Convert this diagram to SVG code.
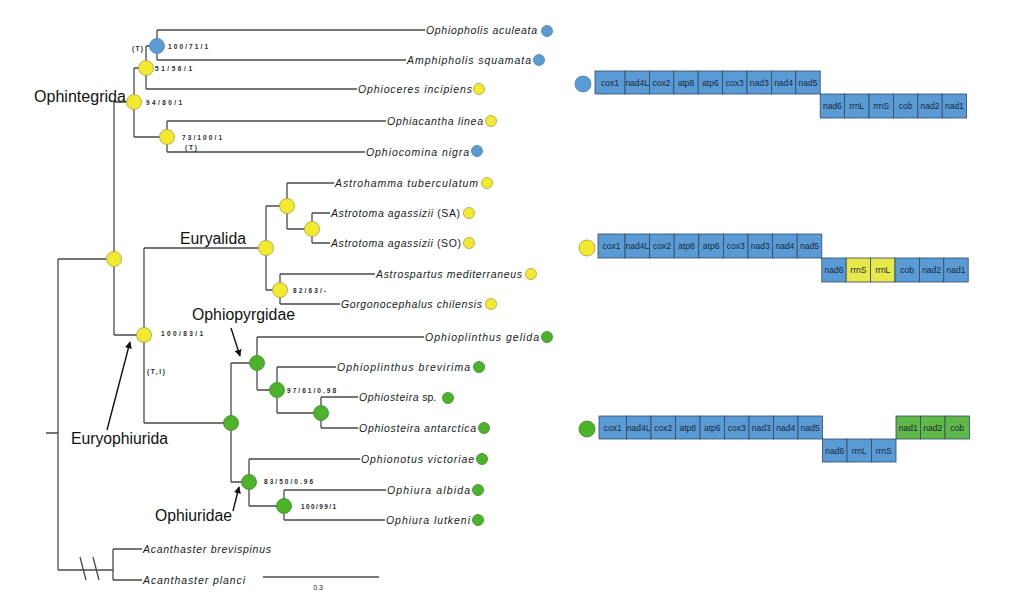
<svg xmlns="http://www.w3.org/2000/svg" width="1024" height="597" viewBox="0 0 1024 597">
<defs>
<style>
.br{stroke:#4a4a4a;stroke-width:1.3;fill:none}
.nb{fill:#5b9bd5;stroke:#4a7fb0;stroke-width:0.8}
.ny{fill:#f2ea2e;stroke:#a8a040;stroke-width:0.8}
.ng{fill:#4cb32a;stroke:#3a8a22;stroke-width:0.8}
.tx{font-family:"Liberation Sans",Arial,sans-serif;font-style:italic;font-size:10.5px;fill:#1a1a1a}
.up{font-style:normal}
.sp{font-family:"Liberation Sans",Arial,sans-serif;font-weight:bold;font-size:6.5px;fill:#2a2a2a}
.cl{font-family:"Liberation Sans",Arial,sans-serif;font-size:16px;fill:#111}
.gb{fill:#5b9bd5;stroke:#2f4a66;stroke-width:0.8}
.gy{fill:#e9e84a;stroke:#2f4a66;stroke-width:0.8}
.gg{fill:#5fb848;stroke:#2f4a66;stroke-width:0.8}
.gt{font-family:"Liberation Sans",Arial,sans-serif;font-size:8.5px;fill:#1a2a3a;text-anchor:middle}
.ar{stroke:#111;stroke-width:1.4;fill:none}
</style>
<marker id="ah" viewBox="0 0 10 10" refX="9" refY="5" markerWidth="7" markerHeight="7" orient="auto" markerUnits="userSpaceOnUse">
<path d="M0,0 L10,5 L0,10 z" fill="#111"/>
</marker>
</defs>
<rect width="1024" height="597" fill="#fff"/>

<g id="connectors">
<path class="br" d="M157,30H425 M157,60H406 M157,30V60 M146,46H157 M146,46V89 M146,89H357 M134,68H146 M134,68V137 M134,137H167 M167,121V152 M167,121H386 M167,152H365 M114,102H134 M114,102V335 M58,259H114 M114,335H144 M144,248V423 M144,248H266 M266,206V290 M266,206H287 M287,183V229 M287,183H334 M287,229H312 M312,213V243 M312,213H330 M312,243H330 M266,290H280 M280,274V304 M280,274H375 M280,304H340 M144,423H231 M231,363V482 M231,363H257 M257,337V390 M257,337H424 M257,390H277 M277,367V413 M277,367H336 M277,413H321 M321,397V428 M321,397H358 M321,428H358 M231,482H249 M249,459V506 M249,459H360 M249,506H284 M284,490V520 M284,490H386 M284,520H385 M58,259V570 M46,433H58 M58,570H113 M113,549V580 M113,549H142 M113,580H142"/>
<path class="br" d="M80,557L86,580 M93,557L99,580"/>
<path class="br" d="M263,577H379"/>
<line class="ar" x1="107" y1="430" x2="130" y2="342" marker-end="url(#ah)"/>
<line class="ar" x1="231" y1="328" x2="240" y2="356" marker-end="url(#ah)"/>
<line class="ar" x1="233" y1="511" x2="239" y2="487" marker-end="url(#ah)"/>
</g>

<g id="internal-nodes">
<circle class="nb" cx="157" cy="46" r="7.5"/>
<circle class="ny" cx="146" cy="68" r="7.5"/>
<circle class="ny" cx="134" cy="102" r="7.5"/>
<circle class="ny" cx="167" cy="137" r="7.5"/>
<circle class="ny" cx="114" cy="259" r="7.5"/>
<circle class="ny" cx="144" cy="335" r="7.5"/>
<circle class="ny" cx="266" cy="248" r="7.5"/>
<circle class="ny" cx="287" cy="206" r="7.5"/>
<circle class="ny" cx="312" cy="229" r="7.5"/>
<circle class="ny" cx="280" cy="290" r="7.5"/>
<circle class="ng" cx="231" cy="423" r="7.5"/>
<circle class="ng" cx="257" cy="363" r="7.5"/>
<circle class="ng" cx="277" cy="390" r="7.5"/>
<circle class="ng" cx="321" cy="413" r="7.5"/>
<circle class="ng" cx="249" cy="482" r="7.5"/>
<circle class="ng" cx="284" cy="506" r="7.5"/>
</g>

<g id="support">
<text class="sp" x="168" y="49" textLength="40" lengthAdjust="spacing">100/71/1</text>
<text class="sp" x="132" y="51" textLength="11" lengthAdjust="spacing">(T)</text>
<text class="sp" x="155" y="71" textLength="37" lengthAdjust="spacing">51/56/1</text>
<text class="sp" x="146" y="105" textLength="36" lengthAdjust="spacing">94/80/1</text>
<text class="sp" x="182" y="140" textLength="40" lengthAdjust="spacing">73/100/1</text>
<text class="sp" x="185" y="150" textLength="12" lengthAdjust="spacing">(T)</text>
<text class="sp" x="293" y="293" textLength="33" lengthAdjust="spacing">82/63/-</text>
<text class="sp" x="161" y="336" textLength="42" lengthAdjust="spacing">100/83/1</text>
<text class="sp" x="147" y="374" textLength="18" lengthAdjust="spacing">(T,I)</text>
<text class="sp" x="287" y="393" textLength="49" lengthAdjust="spacing">97/61/0.98</text>
<text class="sp" x="264" y="484" textLength="49" lengthAdjust="spacing">83/50/0.96</text>
<text class="sp" x="301" y="509" textLength="35" lengthAdjust="spacing">100/99/1</text>
</g>

<g id="clade-labels">
<text class="cl" x="34" y="102" textLength="92" lengthAdjust="spacingAndGlyphs">Ophintegrida</text>
<text class="cl" x="180" y="244" textLength="66" lengthAdjust="spacingAndGlyphs">Euryalida</text>
<text class="cl" x="192" y="320" textLength="103" lengthAdjust="spacingAndGlyphs">Ophiopyrgidae</text>
<text class="cl" x="71" y="444" textLength="97" lengthAdjust="spacingAndGlyphs">Euryophiurida</text>
<text class="cl" x="155" y="521" textLength="77" lengthAdjust="spacingAndGlyphs">Ophiuridae</text>
</g>

<g id="taxa">
<text class="tx" x="426" y="34" textLength="111" lengthAdjust="spacing">Ophiopholis aculeata</text>
<circle class="nb" cx="547" cy="31" r="5.5"/>
<text class="tx" x="407" y="63.5" textLength="124" lengthAdjust="spacing">Amphipholis squamata</text>
<circle class="nb" cx="539" cy="60" r="5.5"/>
<text class="tx" x="358" y="92.5" textLength="114" lengthAdjust="spacing">Ophioceres incipiens</text>
<circle class="ny" cx="479" cy="89" r="5.5"/>
<text class="tx" x="387" y="124.5" textLength="96" lengthAdjust="spacing">Ophiacantha linea</text>
<circle class="ny" cx="491" cy="121" r="5.5"/>
<text class="tx" x="366" y="155.5" textLength="103" lengthAdjust="spacing">Ophiocomina nigra</text>
<circle class="nb" cx="477" cy="151" r="5.5"/>
<text class="tx" x="335" y="186.5" textLength="143" lengthAdjust="spacing">Astrohamma tuberculatum</text>
<circle class="ny" cx="487" cy="183" r="5.5"/>
<text class="tx" x="331" y="216.5" textLength="129" lengthAdjust="spacing">Astrotoma agassizii <tspan class="up">(SA)</tspan></text>
<circle class="ny" cx="469" cy="213" r="5.5"/>
<text class="tx" x="331" y="246.5" textLength="130" lengthAdjust="spacing">Astrotoma agassizii <tspan class="up">(SO)</tspan></text>
<circle class="ny" cx="469" cy="243" r="5.5"/>
<text class="tx" x="376" y="277.5" textLength="146" lengthAdjust="spacing">Astrospartus mediterraneus</text>
<circle class="ny" cx="531" cy="274" r="5.5"/>
<text class="tx" x="341" y="307.5" textLength="141" lengthAdjust="spacing">Gorgonocephalus chilensis</text>
<circle class="ny" cx="491" cy="304" r="5.5"/>
<text class="tx" x="425" y="340.5" textLength="114" lengthAdjust="spacing">Ophioplinthus gelida</text>
<circle class="ng" cx="547" cy="337" r="5.5"/>
<text class="tx" x="337" y="370.5" textLength="133" lengthAdjust="spacing">Ophioplinthus brevirima</text>
<circle class="ng" cx="479" cy="367" r="5.5"/>
<text class="tx" x="359" y="400.5" letter-spacing="0.6">Ophiosteira<tspan class="up" letter-spacing="0"> sp.</tspan></text>
<circle class="ng" cx="448" cy="398" r="5.5"/>
<text class="tx" x="359" y="431.5" textLength="117" lengthAdjust="spacing">Ophiosteira antarctica</text>
<circle class="ng" cx="484" cy="428" r="5.5"/>
<text class="tx" x="361" y="462.5" textLength="113" lengthAdjust="spacing">Ophionotus victoriae</text>
<circle class="ng" cx="482" cy="459" r="5.5"/>
<text class="tx" x="387" y="493.5" textLength="83" lengthAdjust="spacing">Ophiura albida</text>
<circle class="ng" cx="478" cy="490" r="5.5"/>
<text class="tx" x="386" y="523.5" textLength="84" lengthAdjust="spacing">Ophiura lutkeni</text>
<circle class="ng" cx="478" cy="520" r="5.5"/>
<text class="tx" x="143" y="552.5" textLength="128" lengthAdjust="spacing">Acanthaster brevispinus</text>
<text class="tx" x="143" y="583.5" textLength="102" lengthAdjust="spacing">Acanthaster planci</text>
<text x="318" y="590" font-family="Liberation Sans,Arial,sans-serif" font-size="7" fill="#222" text-anchor="middle">0.3</text>
</g>

<g id="map-blue">
<circle class="nb" cx="583" cy="84" r="8"/>
<rect class="gb" x="595" y="71" width="30" height="23"/><text class="gt" x="610" y="85.5">cox1</text>
<rect class="gb" x="625" y="71" width="24.4" height="23"/><text class="gt" x="637.2" y="85.5">nad4L</text>
<rect class="gb" x="649.4" y="71" width="24.4" height="23"/><text class="gt" x="661.6" y="85.5">cox2</text>
<rect class="gb" x="673.8" y="71" width="24.4" height="23"/><text class="gt" x="686" y="85.5">atp8</text>
<rect class="gb" x="698.2" y="71" width="24.4" height="23"/><text class="gt" x="710.4" y="85.5">atp6</text>
<rect class="gb" x="722.6" y="71" width="24.4" height="23"/><text class="gt" x="734.8" y="85.5">cox3</text>
<rect class="gb" x="747" y="71" width="24.4" height="23"/><text class="gt" x="759.2" y="85.5">nad3</text>
<rect class="gb" x="771.4" y="71" width="24.4" height="23"/><text class="gt" x="783.6" y="85.5">nad4</text>
<rect class="gb" x="795.8" y="71" width="24.4" height="23"/><text class="gt" x="808" y="85.5">nad5</text>
<rect class="gb" x="820.2" y="94" width="24.4" height="24"/><text class="gt" x="832.4" y="109">nad6</text>
<rect class="gb" x="844.6" y="94" width="24.4" height="24"/><text class="gt" x="856.8" y="109">rrnL</text>
<rect class="gb" x="869" y="94" width="24.4" height="24"/><text class="gt" x="881.2" y="109">rrnS</text>
<rect class="gb" x="893.4" y="94" width="24.4" height="24"/><text class="gt" x="905.6" y="109">cob</text>
<rect class="gb" x="917.8" y="94" width="24.4" height="24"/><text class="gt" x="930" y="109">nad2</text>
<rect class="gb" x="942.2" y="94" width="24.4" height="24"/><text class="gt" x="954.4" y="109">nad1</text>
</g>

<g id="map-yellow">
<circle class="ny" cx="587" cy="248" r="8"/>
<rect class="gb" x="598" y="234" width="27" height="24"/><text class="gt" x="611.5" y="249">cox1</text>
<rect class="gb" x="625" y="234" width="24.6" height="24"/><text class="gt" x="637.3" y="249">nad4L</text>
<rect class="gb" x="649.6" y="234" width="24.6" height="24"/><text class="gt" x="661.9" y="249">cox2</text>
<rect class="gb" x="674.2" y="234" width="24.6" height="24"/><text class="gt" x="686.5" y="249">atp8</text>
<rect class="gb" x="698.8" y="234" width="24.6" height="24"/><text class="gt" x="711.1" y="249">atp6</text>
<rect class="gb" x="723.4" y="234" width="24.6" height="24"/><text class="gt" x="735.7" y="249">cox3</text>
<rect class="gb" x="748" y="234" width="24.6" height="24"/><text class="gt" x="760.3" y="249">nad3</text>
<rect class="gb" x="772.6" y="234" width="24.6" height="24"/><text class="gt" x="784.9" y="249">nad4</text>
<rect class="gb" x="797.2" y="234" width="24.6" height="24"/><text class="gt" x="809.5" y="249">nad5</text>
<rect class="gb" x="821.8" y="258" width="24.4" height="24"/><text class="gt" x="834" y="273">nad6</text>
<rect class="gy" x="846.2" y="258" width="24.4" height="24"/><text class="gt" x="858.4" y="273">rrnS</text>
<rect class="gy" x="870.6" y="258" width="24.4" height="24"/><text class="gt" x="882.8" y="273">rrnL</text>
<rect class="gb" x="895" y="258" width="24.4" height="24"/><text class="gt" x="907.2" y="273">cob</text>
<rect class="gb" x="919.4" y="258" width="24.4" height="24"/><text class="gt" x="931.6" y="273">nad2</text>
<rect class="gb" x="943.8" y="258" width="24.4" height="24"/><text class="gt" x="956" y="273">nad1</text>
</g>

<g id="map-green">
<circle class="ng" cx="587" cy="429" r="8"/>
<rect class="gb" x="599" y="416" width="27.5" height="23"/><text class="gt" x="612.7" y="430.5">cox1</text>
<rect class="gb" x="626.5" y="416" width="24.5" height="23"/><text class="gt" x="638.7" y="430.5">nad4L</text>
<rect class="gb" x="651" y="416" width="24.5" height="23"/><text class="gt" x="663.2" y="430.5">cox2</text>
<rect class="gb" x="675.5" y="416" width="24.5" height="23"/><text class="gt" x="687.7" y="430.5">atp8</text>
<rect class="gb" x="700" y="416" width="24.5" height="23"/><text class="gt" x="712.2" y="430.5">atp6</text>
<rect class="gb" x="724.5" y="416" width="24.5" height="23"/><text class="gt" x="736.7" y="430.5">cox3</text>
<rect class="gb" x="749" y="416" width="24.5" height="23"/><text class="gt" x="761.2" y="430.5">nad3</text>
<rect class="gb" x="773.5" y="416" width="24.5" height="23"/><text class="gt" x="785.7" y="430.5">nad4</text>
<rect class="gb" x="798" y="416" width="24.5" height="23"/><text class="gt" x="810.2" y="430.5">nad5</text>
<rect class="gb" x="822.5" y="439" width="24.5" height="23"/><text class="gt" x="834.7" y="453.5">nad6</text>
<rect class="gb" x="847" y="439" width="24.5" height="23"/><text class="gt" x="859.2" y="453.5">rrnL</text>
<rect class="gb" x="871.5" y="439" width="24.5" height="23"/><text class="gt" x="883.7" y="453.5">rrnS</text>
<rect class="gg" x="896" y="416" width="24.5" height="23"/><text class="gt" x="908.2" y="430.5">nad1</text>
<rect class="gg" x="920.5" y="416" width="24.5" height="23"/><text class="gt" x="932.7" y="430.5">nad2</text>
<rect class="gg" x="945" y="416" width="24.5" height="23"/><text class="gt" x="957.2" y="430.5">cob</text>
</g>
</svg>
